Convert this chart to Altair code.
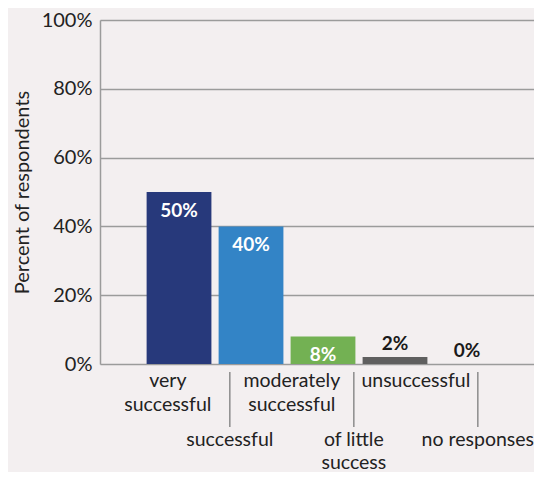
import altair as alt
import pandas as pd

# ---- data ----
bar_cats = ["very successful", "successful", "moderately successful", "of little success", "unsuccessful"]
bar_vals = [50, 40, 8, 2, 0]
bar_text = ["50%", "40%", "8%", "2%", "0%"]

label_keys = ["very successful", "successful", "moderately successful",
              "of little success", "unsuccessful", "no responses"]
label_lines = [["very", "successful"], ["successful"], ["moderately", "successful"],
               ["of little", "success"], ["unsuccessful"], ["no responses"]]
label_row = [1, 2, 1, 2, 1, 2]

y_ticks = [0, 20, 40, 60, 80, 100]

palette = ["#27397b", "#3384c6", "#73b153", "#5f5f5f", "#5f5f5f"]

bars_df = pd.DataFrame({"category": bar_cats, "value": bar_vals, "label": bar_text})
labels_df = pd.DataFrame({"key": label_keys, "lines": label_lines, "row": label_row})

FONT = "Lato"
TXT = "#222222"

bar_scale = alt.Scale(type="band", domain=bar_cats, paddingInner=0.1, paddingOuter=0.564, align=0.574)
x_bar = alt.X("category:N", sort=bar_cats, axis=None, scale=bar_scale)
x_bar_txt = alt.X("category:N", sort=bar_cats, axis=None, scale=bar_scale, bandPosition=0.5)

y_val = alt.Y("value:Q", scale=alt.Scale(domain=[0, 100]),
              axis=alt.Axis(values=y_ticks, labelExpr="datum.value + '%'",
                            title="Percent of respondents", grid=True, ticks=False,
                            domain=True, domainColor="#9b9b9b", domainWidth=1.5,
                            gridColor="#9b9b9b", gridWidth=1.5,
                            labelFontSize=20, labelColor=TXT, labelPadding=8,
                            labelFont=FONT, titleFont=FONT, titleFontSize=20,
                            titleFontWeight="normal", titleColor=TXT, titlePadding=9))

bars = alt.Chart(bars_df).mark_bar().encode(
    x=x_bar,
    y=y_val,
    color=alt.Color("category:N", scale=alt.Scale(domain=bar_cats, range=palette), legend=None),
)

txt_in = alt.Chart(bars_df).transform_filter("datum.value >= 5").mark_text(
    baseline="top", dy=10, fontSize=19, fontWeight="bold", color="white", font=FONT
).encode(x=x_bar_txt, y=alt.Y("value:Q"), text="label:N")

txt_out = alt.Chart(bars_df).transform_filter("datum.value < 5").mark_text(
    baseline="bottom", dy=-3, fontSize=19, fontWeight="bold", color="#1a1a1a", font=FONT
).encode(x=x_bar_txt, y=alt.Y("value:Q"), text="label:N")

x_lab = alt.X("key:N", sort=label_keys, axis=None,
              scale=alt.Scale(type="point", domain=label_keys, padding=1.153, align=0.547))

row1 = alt.Chart(labels_df).transform_filter("datum.row == 1").mark_text(
    baseline="top", align="center", lineHeight=24, fontSize=19.5, color=TXT, font=FONT
).encode(x=x_lab, y=alt.value(352), text="lines")

row2 = alt.Chart(labels_df).transform_filter("datum.row == 2").mark_text(
    baseline="top", align="center", lineHeight=23, fontSize=19.5, color=TXT, font=FONT
).encode(x=x_lab, y=alt.value(411), text="lines")

ticks = alt.Chart(labels_df).transform_filter("datum.row == 2").mark_rule(
    color="#8c8c8c", strokeWidth=1.5
).encode(x=x_lab, y=alt.value(352), y2=alt.value(407))

chart = alt.layer(bars, txt_in, txt_out, ticks, row1, row2).resolve_scale(
    x="independent"
).properties(
    width=434, height=344,
    autosize=alt.AutoSizeParams(type="none"),
    padding={"left": 92, "top": 12, "right": 0, "bottom": 108},
    background="#f3eff0",
).configure_view(stroke=None).configure(font=FONT)

chart.save("out.html", embed_options={"renderer": "svg", "actions": False})
